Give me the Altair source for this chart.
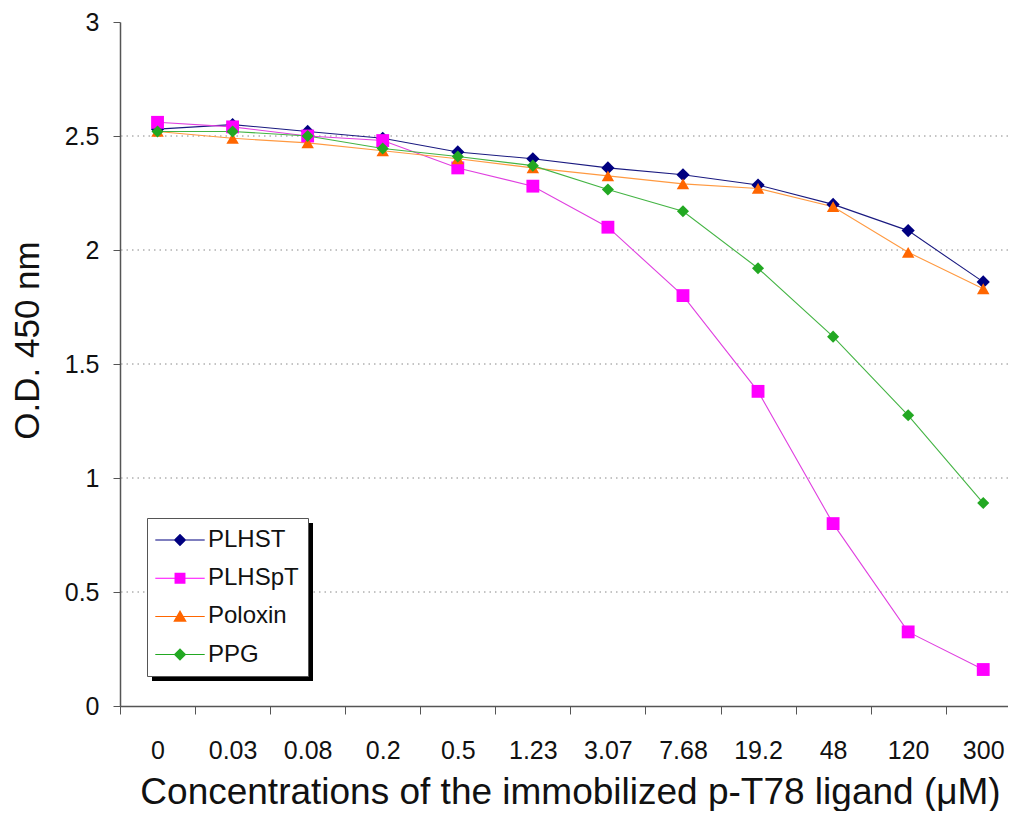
import altair as alt
import pandas as pd

# ---- data ----
categories = ["0", "0.03", "0.08", "0.2", "0.5", "1.23", "3.07", "7.68", "19.2", "48", "120", "300"]
series_names = ["PLHST", "PLHSpT", "Poloxin", "PPG"]
plhst = [2.53, 2.55, 2.52, 2.49, 2.43, 2.40, 2.36, 2.33, 2.285, 2.20, 2.085, 1.86]
plhspt = [2.56, 2.54, 2.50, 2.48, 2.36, 2.28, 2.10, 1.80, 1.38, 0.80, 0.325, 0.16]
poloxin = [2.52, 2.49, 2.47, 2.435, 2.40, 2.36, 2.325, 2.29, 2.27, 2.19, 1.99, 1.83]
ppg = [2.52, 2.52, 2.50, 2.445, 2.41, 2.37, 2.265, 2.17, 1.92, 1.62, 1.275, 0.89]
y_ticks = [0, 0.5, 1, 1.5, 2, 2.5, 3]
grid_values = [0.5, 1, 1.5, 2, 2.5]

# ---- styles ----
marker_colors = ["#000080", "#FF00FF", "#FF6600", "#22A822"]
line_colors = ["#1A1A80", "#E040E0", "#FF9940", "#44B444"]
marker_shapes = ["diamond", "square", "triangle-up", "diamond"]
marker_sizes = [175, 145, 175, 175]
# legend symbols: short line with the marker in the middle
legend_shapes = [
    "M-1.9,-0.04H1.9V0.04H-1.9Z M0,-0.48L0.48,0L0,0.48L-0.48,0Z",
    "M-1.9,-0.04H1.9V0.04H-1.9Z M-0.42,-0.42H0.42V0.42H-0.42Z",
    "M-1.9,-0.04H1.9V0.04H-1.9Z M0,-0.5L0.52,0.42L-0.52,0.42Z",
    "M-1.9,-0.04H1.9V0.04H-1.9Z M0,-0.48L0.48,0L0,0.48L-0.48,0Z",
]
FONT = "Liberation Sans"

rows = []
for name, vals in zip(series_names, [plhst, plhspt, poloxin, ppg]):
    for i, v in enumerate(vals):
        rows.append({"series": name, "xi": i, "conc": categories[i], "od": v})
df = pd.DataFrame(rows)
grid_df = pd.DataFrame({"g": grid_values})
shadow_df = pd.DataFrame({"k": [0]})

W, H = 888, 684
x_min, x_max = -0.5, 11.33
step = W / (x_max - x_min)

label_expr = "[" + ",".join("'%s'" % c for c in categories) + "][datum.value]"

x_enc = alt.X(
    "xi:Q",
    scale=alt.Scale(domain=[x_min, x_max], nice=False, zero=False),
    axis=alt.Axis(
        values=list(range(len(categories))),
        labelExpr=label_expr,
        tickOffset=-step / 2,
        labelOffset=step / 2,
        title="Concentrations of the immobilized p-T78 ligand (\u03bcM)",
        titleFontSize=37,
        titleFontWeight="normal",
        titleFont=FONT,
        titleColor="#111",
        titlePadding=11,
        titleX=450,
        labelFontSize=25,
        labelFont=FONT,
        labelColor="#111",
        labelPadding=24,
        tickSize=8,
        tickColor="#555",
        domainColor="#555",
        domainWidth=1.5,
        grid=False,
        labelOverlap=False,
    ),
)
y_enc = alt.Y(
    "od:Q",
    scale=alt.Scale(domain=[0, 3], nice=False, zero=True),
    axis=alt.Axis(
        values=y_ticks,
        format="~g",
        title="O.D. 450 nm",
        titleFontSize=35,
        titleFontWeight="normal",
        titleFont=FONT,
        titleColor="#111",
        titlePadding=19,
        titleY=318,
        labelFontSize=25,
        labelFont=FONT,
        labelColor="#111",
        labelPadding=14,
        tickSize=7,
        tickColor="#555",
        domainColor="#555",
        domainWidth=1.5,
        grid=False,
    ),
)

grid = alt.Chart(grid_df).mark_rule(color="#888", strokeDash=[1.5, 4], strokeWidth=1).encode(
    y=alt.Y("g:Q", scale=alt.Scale(domain=[0, 3], nice=False))
)

lines = alt.Chart(df).mark_line(strokeWidth=1.1).encode(
    x=x_enc,
    y=y_enc,
    color=alt.Color("series:N", scale=alt.Scale(domain=series_names, range=line_colors), legend=None),
    detail="series:N",
)

points = alt.Chart(df).mark_point(filled=True, opacity=1).encode(
    x=x_enc,
    y=y_enc,
    color=alt.Color("series:N", scale=alt.Scale(domain=series_names, range=marker_colors), legend=None),
    shape=alt.Shape("series:N", scale=alt.Scale(domain=series_names, range=marker_shapes), legend=None),
    size=alt.Size("series:N", scale=alt.Scale(domain=series_names, range=marker_sizes), legend=None),
)

shadow = alt.Chart(shadow_df).mark_rect(color="black").encode(
    x=alt.value(32), x2=alt.value(193), y=alt.value(501), y2=alt.value(659)
)

legend_layer = alt.Chart(df).transform_filter("false").mark_point(filled=True, opacity=1).encode(
    x=x_enc,
    y=y_enc,
    color=alt.Color(
        "series:N",
        scale=alt.Scale(domain=series_names, range=marker_colors),
        legend=alt.Legend(
            title=None,
            orient="none",
            legendX=27,
            legendY=496,
            padding=9,
            strokeColor="#555",
            fillColor="white",
            labelFontSize=24,
            labelFont=FONT,
            labelColor="#111",
            symbolSize=676,
            symbolOffset=11,
            labelOffset=15,
            rowPadding=13.2,
            symbolStrokeWidth=0,
            labelLimit=300,
        ),
    ),
    shape=alt.Shape(
        "series:N",
        scale=alt.Scale(domain=series_names, range=legend_shapes),
        legend=alt.Legend(title=None, orient="none", legendX=27, legendY=496),
    ),
)

chart = (
    alt.layer(grid, lines, points, shadow, legend_layer)
    .resolve_scale(color="independent", shape="independent", size="independent")
    .properties(
        width=W,
        height=H,
        autosize="none",
        padding={"left": 112, "top": 14, "right": 0, "bottom": 105},
        background="white",
    )
    .configure_view(stroke=None)
)

chart.save("out.html", embed_options={"renderer": "svg", "actions": False})
